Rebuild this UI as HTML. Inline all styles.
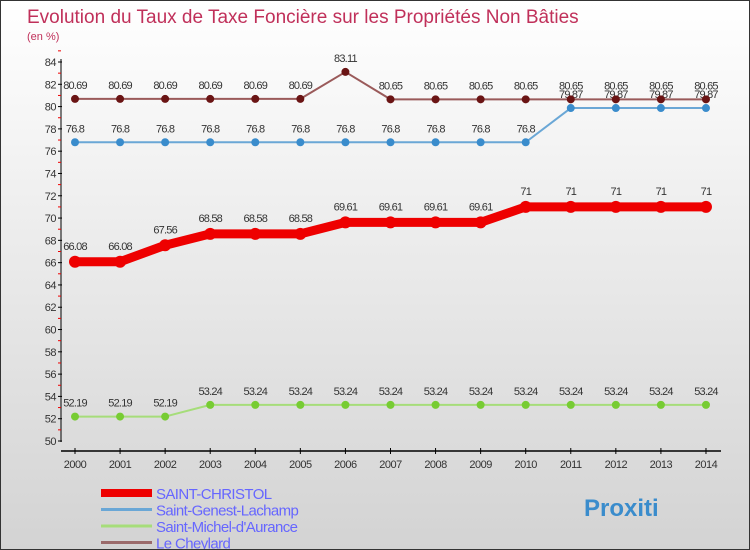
<!DOCTYPE html>
<html><head><meta charset="utf-8"><style>
body{margin:0}
#c{width:748px;height:548px;border:1px solid #333;background:linear-gradient(#fff,#d3d3d3);position:relative;font-family:"Liberation Sans",sans-serif;overflow:hidden}
</style></head><body>
<div id="c">
<svg id="s" width="748" height="548">
<text x="26" y="22" font-size="19" fill="#c0305a">Evolution du Taux de Taxe Foncière sur les Propriétés Non Bâties</text>
<text x="26" y="39" font-size="11" fill="#c0305a">(en %)</text>
</svg>
</div>
<script>
const years=["2000","2001","2002","2003","2004","2005","2006","2007","2008","2009","2010","2011","2012","2013","2014"];
const yTicks=[50,52,54,56,58,60,62,64,66,68,70,72,74,76,78,80,82,84];
const christol=[66.08,66.08,67.56,68.58,68.58,68.58,69.61,69.61,69.61,69.61,71,71,71,71,71];
const genest=[76.8,76.8,76.8,76.8,76.8,76.8,76.8,76.8,76.8,76.8,76.8,79.87,79.87,79.87,79.87];
const michel=[52.19,52.19,52.19,53.24,53.24,53.24,53.24,53.24,53.24,53.24,53.24,53.24,53.24,53.24,53.24];
const cheylard=[80.69,80.69,80.69,80.69,80.69,80.69,83.11,80.65,80.65,80.65,80.65,80.65,80.65,80.65,80.65];
const labels=["SAINT-CHRISTOL","Saint-Genest-Lachamp","Saint-Michel-d'Aurance","Le Cheylard"];
const ns="http://www.w3.org/2000/svg",s=document.getElementById('s');
const X=i=>74+i*45.07, Y=v=>440-(v-50)*(379/34);
function el(t,a,txt){const e=document.createElementNS(ns,t);for(const k in a)e.setAttribute(k,a[k]);if(txt!=null)e.textContent=txt;s.appendChild(e);return e;}
let e=el('line',{x1:60,y1:58,x2:60,y2:441,stroke:'#000'});


e=el('line',{x1:60,y1:450,x2:720,y2:450,stroke:'#000','stroke-width':1.5});


yTicks.forEach(v=>{
  el('line',{x1:57,y1:Y(v),x2:61,y2:Y(v),stroke:'#000'});
  el('line',{x1:57,y1:Y(v+1),x2:60,y2:Y(v+1),stroke:'#e00'});
  const t=el('text',{x:55,y:Y(v)+4,'font-size':11,fill:'#333','text-anchor':'end','letter-spacing':'-0.5'},v);
  
  
});
years.forEach((y,i)=>{
  el('line',{x1:X(i),y1:447,x2:X(i),y2:453,stroke:'#000'});
  const t=el('text',{x:X(i),y:467,'font-size':11,fill:'#333','text-anchor':'middle','letter-spacing':'-0.5'},y);
  
  
});
function series(d,color,dot,w,r,name,lblOff){
  const p=el('polyline',{points:d.map((v,i)=>X(i)+','+Y(v)).join(' '),fill:'none',stroke:color,'stroke-width':w,'stroke-linejoin':'round'});
  
  
  d.forEach((v,i)=>{
    const c=el('circle',{cx:X(i),cy:Y(v),r:r,fill:dot});
    
    
    const t=el('text',{x:X(i),y:Y(v)-lblOff,'font-size':11,fill:'#333','text-anchor':'middle','letter-spacing':'-0.8'},String(v));
    
    
  });
}
series(michel,'#a6dd7a','#77cc33',2,4,'saint-michel',10);
series(genest,'#6aa7d6','#3a8ccc',2,4,'saint-genest',10);
series(cheylard,'#9a5a5a','#6a1414',2,4,'le-cheylard',10);
series(christol,'#ee0000','#ee0000',9,6,'saint-christol',12);
const lc=['#ee0000','#6aa7d6','#a6dd7a','#9a6a6a'],lw=[8,3,3,3];
labels.forEach((l,i)=>{
  const y=492+i*16.5;
  const ln=el('line',{x1:100,y1:y,x2:151,y2:y,stroke:lc[i],'stroke-width':lw[i]});
  
  
  const t=el('text',{x:155,y:y+6,'font-size':15,fill:'#6666ff','letter-spacing':'-0.6'},l);
  
  
});
const b=el('text',{x:583,y:515,'font-size':24,'font-weight':'bold',fill:'#3a8ccc'},'Proxiti');


</script>
</body></html>
